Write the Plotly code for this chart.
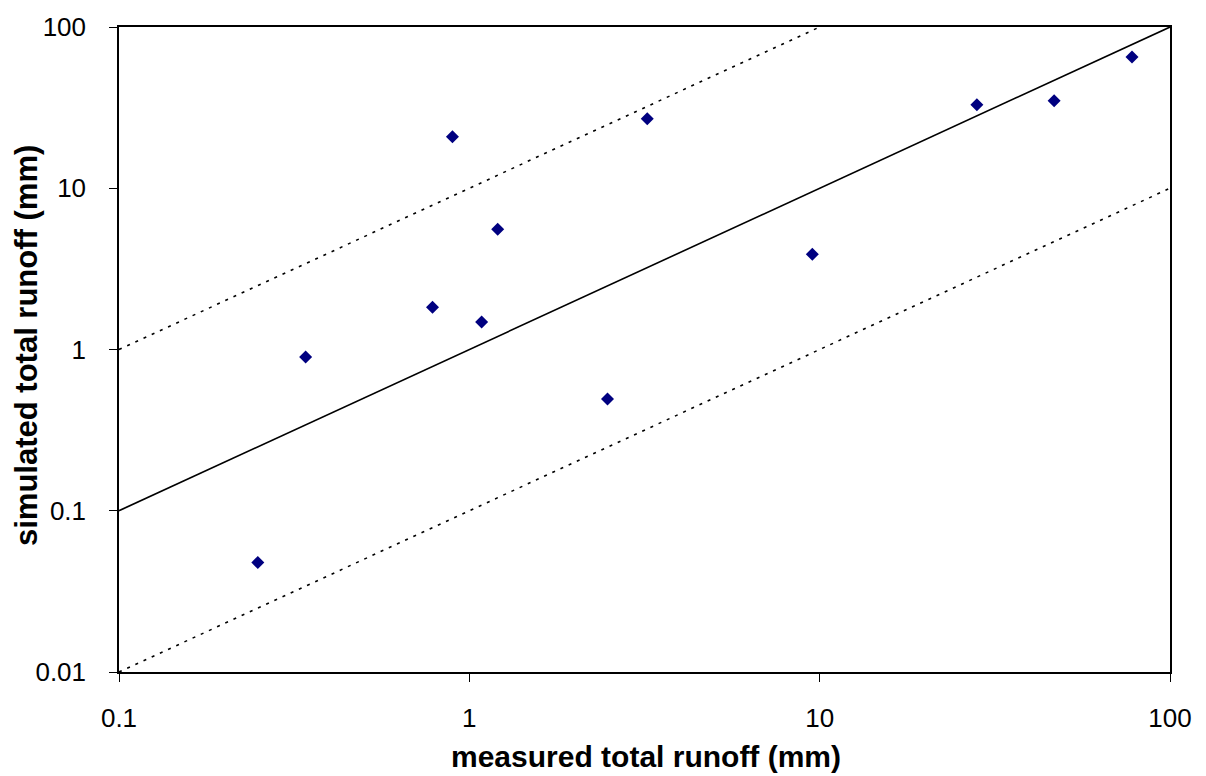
import plotly.graph_objects as go

# Measured vs simulated total runoff (mm)
measured = [77.9, 46.7, 28.1, 3.22, 0.895, 1.205, 9.53, 0.785, 1.084, 0.341, 2.48, 0.249]
simulated = [65.2, 34.9, 33.0, 27.0, 20.9, 5.56, 3.89, 1.83, 1.48, 0.90, 0.494, 0.0478]

# 1:1 line and factor-of-ten bounds
line_x = [0.1, 100]
one_to_one = [0.1, 100]
upper_x = [0.1, 10]
upper_y = [1, 100]
lower_x = [0.1, 100]
lower_y = [0.01, 10]

x_ticks = [0.1, 1, 10, 100]
x_tick_labels = ["0.1", "1", "10", "100"]
y_ticks = [0.01, 0.1, 1, 10, 100]
y_tick_labels = ["0.01", "0.1", "1", "10", "100"]

fig = go.Figure()

fig.add_trace(go.Scatter(x=upper_x, y=upper_y, mode="lines",
                         line=dict(color="black", width=1.6, dash="3px,6px"),
                         hoverinfo="skip", showlegend=False))
fig.add_trace(go.Scatter(x=lower_x, y=lower_y, mode="lines",
                         line=dict(color="black", width=1.6, dash="3px,6px"),
                         hoverinfo="skip", showlegend=False))
fig.add_trace(go.Scatter(x=line_x, y=one_to_one, mode="lines",
                         line=dict(color="black", width=1.6),
                         hoverinfo="skip", showlegend=False))
fig.add_trace(go.Scatter(x=measured, y=simulated, mode="markers",
                         marker=dict(symbol="diamond", size=10, color="#000080",
                                     line=dict(width=0)),
                         showlegend=False))

axis_common = dict(
    showgrid=False, zeroline=False,
    showline=True, linecolor="black", linewidth=1.5, mirror=True,
    ticks="outside", ticklen=8, tickcolor="black", tickwidth=1,
    tickfont=dict(family="Liberation Sans, Arial, sans-serif", size=26, color="black"),
)

fig.update_xaxes(type="log", range=[-1, 2], tickvals=x_ticks, ticktext=x_tick_labels,
                 ticklabelstandoff=14, **axis_common)
fig.update_yaxes(type="log", range=[-2, 2], tickvals=y_ticks, ticktext=y_tick_labels,
                 ticklabelstandoff=18, **axis_common)

fig.add_annotation(text="<b>measured total runoff (mm)</b>", xref="paper", yref="paper",
                   x=(646 - 119) / 1051, y=-(757 - 672) / 647, xanchor="center",
                   yanchor="middle", showarrow=False,
                   font=dict(family="Liberation Sans, Arial, sans-serif", size=30,
                             color="black"))
fig.add_annotation(text="<b>simulated total runoff (mm)</b>", xref="paper", yref="paper",
                   x=-(119 - 26) / 1051, y=(672 - 345) / 647, xanchor="center",
                   yanchor="middle", textangle=-90, showarrow=False,
                   font=dict(family="Liberation Sans, Arial, sans-serif", size=31,
                             color="black"))

fig.update_layout(
    width=1206, height=776,
    margin=dict(l=119, r=36, t=25, b=104),
    paper_bgcolor="white", plot_bgcolor="white",
)

fig.write_html("out.html")
